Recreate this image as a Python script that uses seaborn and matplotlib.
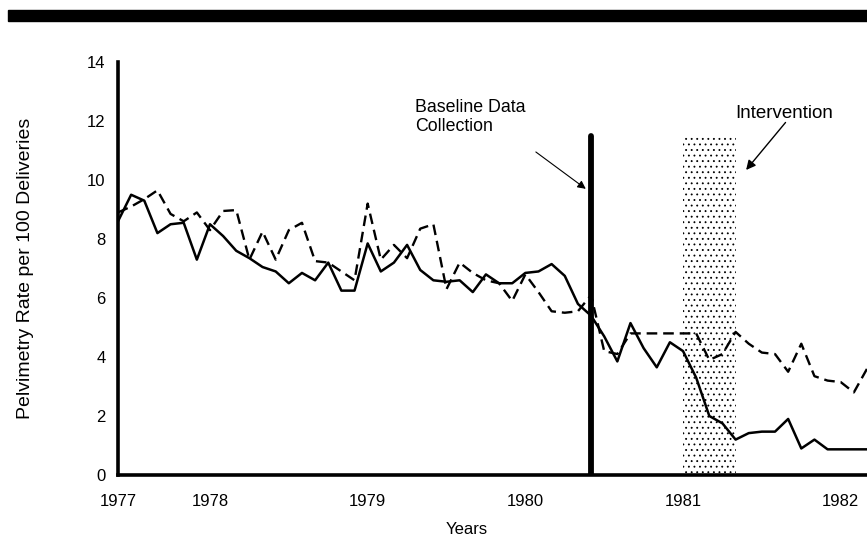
import numpy as np
import pandas as pd
import seaborn as sns
import matplotlib
matplotlib.use("Agg")
import matplotlib.pyplot as plt
from matplotlib.patches import Rectangle

# months counted from June 1977
months = list(range(0, 58))
solid = [8.6, 9.5, 9.3, 8.2, 8.5, 8.55, 7.3, 8.5, 8.1, 7.6,
         7.35, 7.05, 6.9, 6.5, 6.85, 6.6, 7.2, 6.25, 6.25, 7.85,
         6.9, 7.2, 7.8, 6.95, 6.6, 6.55, 6.6, 6.2, 6.8, 6.5,
         6.5, 6.85, 6.9, 7.15, 6.75, 5.8, 5.4, 4.7, 3.85, 5.15,
         4.3, 3.65, 4.5, 4.2, 3.3, 2.0, 1.75, 1.2, 1.42, 1.47,
         1.47, 1.9, 0.9, 1.2, 0.87, 0.87, 0.87, 0.87]
dashed = [8.9, 9.1, 9.35, 9.65, 8.85, 8.6, 8.9, 8.3, 8.95, 8.98,
          7.3, 8.25, 7.3, 8.3, 8.55, 7.25, 7.2, 6.9, 6.6, 9.2,
          7.3, 7.8, 7.35, 8.35, 8.5, 6.3, 7.2, 6.85, 6.6, 6.5,
          5.9, 6.8, 6.2, 5.55, 5.5, 5.55, 6.1, 4.2, 4.1, 4.8,
          4.8, 4.8, 4.8, 4.8, 4.8, 3.9, 4.1, 4.85, 4.45, 4.15,
          4.1, 3.5, 4.45, 3.35, 3.2, 3.15, 2.8, 3.6]
year_pos = [0, 7, 19, 31, 43, 55]
year_labels = ["1977", "1978", "1979", "1980", "1981", "1982"]
baseline_month = 36
intervention_span = [43, 47]
top_value = 11.5

sns.set_theme(style="white")
plt.rcParams["font.family"] = ["Liberation Sans", "DejaVu Sans"]
plt.rcParams["text.color"] = "black"
plt.rcParams["axes.labelcolor"] = "black"
plt.rcParams["xtick.color"] = "black"
plt.rcParams["ytick.color"] = "black"
plt.rcParams["hatch.linewidth"] = 0.6

W, H = 867, 544
fig = plt.figure(figsize=(W / 100, H / 100), dpi=100)
ax = fig.add_axes([118 / W, 1 - 475 / H, (W - 118) / W, (475 - 62) / H])

df = pd.DataFrame({"month": months, "solid": solid, "dashed": dashed})
sns.lineplot(data=df, x="month", y="solid", ax=ax, color="black", lw=1.8)
sns.lineplot(data=df, x="month", y="dashed", ax=ax, color="black", lw=1.7,
             linestyle=(0, (4.5, 2.5)))

# intervention stipple
ax.fill_between(intervention_span, 0, top_value, facecolor="none",
                edgecolor="black", hatch="...", linewidth=0)
# baseline thick line
ax.plot([baseline_month, baseline_month], [0, top_value], color="black",
        lw=4.2, solid_capstyle="round")

ax.set_xlim(0, (W - 118) / 13.17)
ax.set_ylim(0, 14)
ax.set_xticks(year_pos)
ax.set_xticklabels(year_labels)
ax.set_xticks(range(0, 58), minor=True)
ax.set_yticks(range(0, 15, 2))
ax.set_yticks(range(1, 14, 2), minor=True)
ax.tick_params(which="both", direction="in", width=1.3, colors="black",
               labelsize=12)
ax.tick_params(which="major", length=9)
ax.tick_params(which="minor", length=4.5)
ax.tick_params(axis="x", pad=14)
ax.tick_params(axis="y", pad=9)
for s in ["top", "right"]:
    ax.spines[s].set_visible(False)
for s in ["left", "bottom"]:
    ax.spines[s].set_linewidth(2.6)
    ax.spines[s].set_color("black")

ax.set_xlabel("Years", fontsize=12)
ax.xaxis.set_label_coords((467 - 118) / (W - 118), -0.115)
ax.set_ylabel("Pelvimetry Rate per 100 Deliveries", fontsize=14)
ax.yaxis.set_label_coords(-0.112, 0.5)

ax.text(22.6, 12.75, "Baseline Data\nCollection", fontsize=12.8, ha="left",
        va="top", linespacing=1.2)
ax.annotate("", xy=(35.6, 9.7), xytext=(31.8, 10.95),
            arrowprops=dict(arrowstyle="-|>", lw=0.8, color="black",
                            mutation_scale=12, shrinkA=0, shrinkB=0))
ax.text(47.0, 12.27, "Intervention", fontsize=13.5, ha="left", va="center")
ax.annotate("", xy=(47.8, 10.34), xytext=(50.8, 11.95),
            arrowprops=dict(arrowstyle="-|>", lw=1.0, color="black",
                            mutation_scale=14, shrinkA=0, shrinkB=0))

# top black bar
fig.patches.append(Rectangle((8 / W, 1 - 21 / H), 1 - 8 / W, 11 / H,
                             transform=fig.transFigure, color="black"))

fig.savefig("out.png", dpi=100)
